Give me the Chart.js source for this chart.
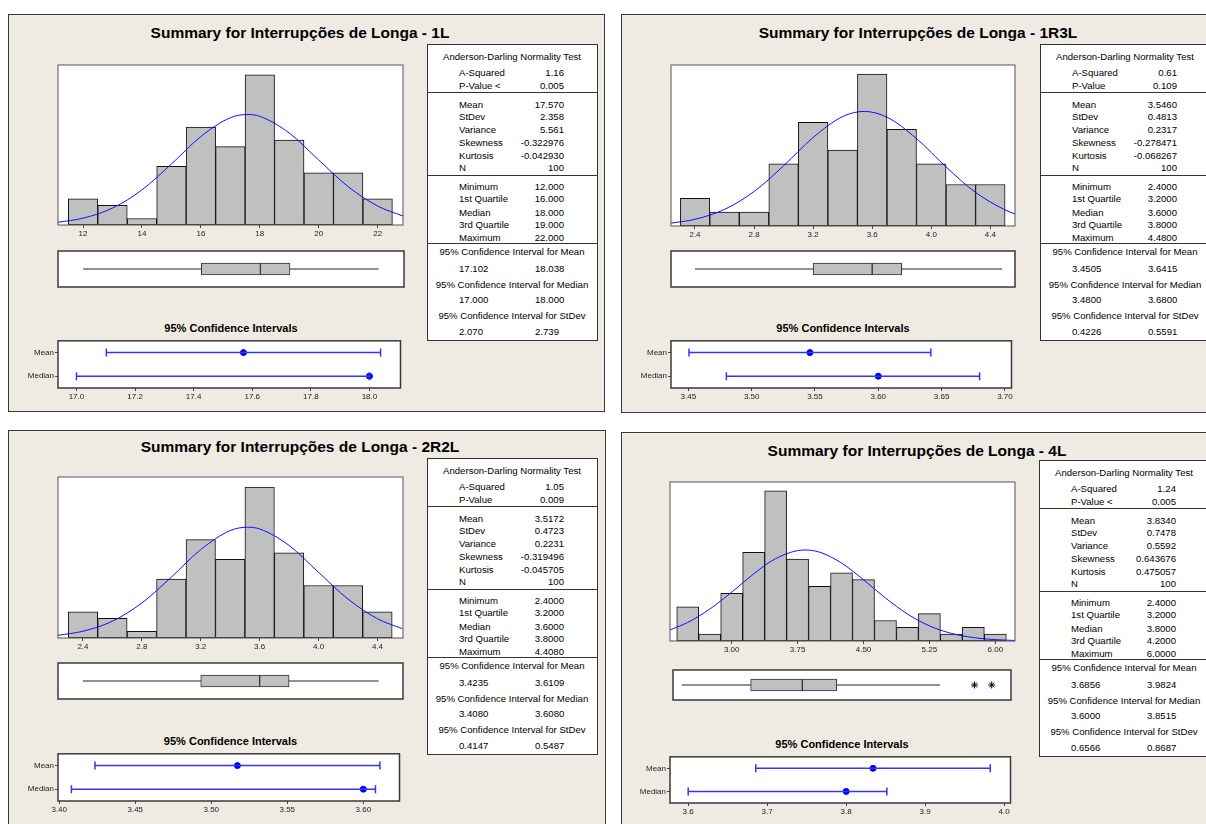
<!DOCTYPE html>
<html>
<head>
<meta charset="utf-8">
<title>Summary for Interrupções de Longa</title>
<script src="https://cdn.jsdelivr.net/npm/chart.js@4.4.1/dist/chart.umd.min.js"></script>
<style>
body { margin: 0; width: 1206px; height: 824px; overflow: hidden; position: relative; background: #fff; font-family: "Liberation Sans", Arial, sans-serif; color: #000; }
.panel { position: absolute; background: #efebe2; border: 1.5px solid #3a3a3a; box-sizing: border-box; }
.abs { position: absolute; white-space: nowrap; line-height: 1; }
.title { font-size: 15.5px; font-weight: bold; }
.cititle { font-size: 11px; font-weight: bold; }
.stats { position: absolute; width: 171px; height: 297px; background: #fff; border: 1.5px solid #333; box-sizing: border-box; font-size: 9.6px; }
.sep { position: absolute; left: 0; right: 0; height: 0; border-top: 1.5px solid #333; }
canvas { position: absolute; }
</style>
</head>
<body>
<script>
// ---- shared text ----
const titles = [
    'Summary for Interrupções de Longa - 1L',
    'Summary for Interrupções de Longa - 1R3L',
    'Summary for Interrupções de Longa - 2R2L',
    'Summary for Interrupções de Longa - 4L'
];
const statLabels = ['A-Squared', 'P-Value', 'Mean', 'StDev', 'Variance', 'Skewness', 'Kurtosis', 'N',
    'Minimum', '1st Quartile', 'Median', '3rd Quartile', 'Maximum'];
const pValueLabels = ['P-Value <', 'P-Value', 'P-Value', 'P-Value <'];
const ciHeaders = ['95% Confidence Interval for Mean', '95% Confidence Interval for Median', '95% Confidence Interval for StDev'];
const ciRows = ['Mean', 'Median'];

// ---- 1L ----
const bins1L = [12, 13, 14, 15, 16, 17, 18, 19, 20, 21, 22];
const counts1L = [4, 3, 1, 9, 15, 12, 23, 13, 8, 8, 4];
const curveX1L = [11.15, 12, 13, 14, 15, 16, 17, 17.57, 18, 19, 20, 21, 22, 22.86];
const curveY1L = [0.42, 1.04, 2.59, 5.38, 9.34, 13.55, 16.43, 16.92, 16.64, 14.08, 9.95, 5.87, 2.90, 1.37];
const ticks1L = [12, 14, 16, 18, 20, 22];
const box1L = [12, 16, 18, 19, 22];
const outliers1L = [];
const ciMean1L = [17.102, 17.570, 18.038];
const ciMedian1L = [17.000, 18.000, 18.000];
const ciTicks1L = [17.0, 17.2, 17.4, 17.6, 17.8, 18.0];
const stats1L = ['1.16', '0.005', '17.570', '2.358', '5.561', '-0.322976', '-0.042930', '100',
    '12.000', '16.000', '18.000', '19.000', '22.000'];
const ciText1L = ['17.102', '18.038', '17.000', '18.000', '2.070', '2.739'];

// ---- 1R3L ----
const bins1R3L = [2.4, 2.6, 2.8, 3.0, 3.2, 3.4, 3.6, 3.8, 4.0, 4.2, 4.4];
const counts1R3L = [4, 2, 2, 9, 15, 11, 22, 14, 9, 6, 6];
const curveX1R3L = [2.24, 2.4, 2.6, 2.8, 3.0, 3.2, 3.4, 3.546, 3.7, 3.9, 4.1, 4.3, 4.5, 4.57];
const curveY1R3L = [0.42, 0.97, 2.40, 4.99, 8.71, 12.81, 15.84, 16.58, 15.75, 12.65, 8.55, 4.86, 2.33, 1.72];
const ticks1R3L = [2.4, 2.8, 3.2, 3.6, 4.0, 4.4];
const box1R3L = [2.4, 3.2, 3.6, 3.8, 4.48];
const outliers1R3L = [];
const ciMean1R3L = [3.4505, 3.546, 3.6415];
const ciMedian1R3L = [3.48, 3.60, 3.68];
const ciTicks1R3L = [3.45, 3.50, 3.55, 3.60, 3.65, 3.70];
const stats1R3L = ['0.61', '0.109', '3.5460', '0.4813', '0.2317', '-0.278471', '-0.068267', '100',
    '2.4000', '3.2000', '3.6000', '3.8000', '4.4800'];
const ciText1R3L = ['3.4505', '3.6415', '3.4800', '3.6800', '0.4226', '0.5591'];

// ---- 2R2L ----
const bins2R2L = [2.4, 2.6, 2.8, 3.0, 3.2, 3.4, 3.6, 3.8, 4.0, 4.2, 4.4];
const counts2R2L = [4, 3, 1, 9, 15, 12, 23, 13, 8, 8, 4];
const curveX2R2L = [2.23, 2.4, 2.6, 2.8, 3.0, 3.2, 3.4, 3.517, 3.6, 3.8, 4.0, 4.2, 4.4, 4.57];
const curveY2R2L = [0.41, 1.03, 2.56, 5.34, 9.28, 13.48, 16.38, 16.89, 16.63, 14.11, 10.01, 5.94, 2.94, 1.41];
const ticks2R2L = [2.4, 2.8, 3.2, 3.6, 4.0, 4.4];
const box2R2L = [2.4, 3.2, 3.6, 3.8, 4.408];
const outliers2R2L = [];
const ciMean2R2L = [3.4235, 3.5172, 3.6109];
const ciMedian2R2L = [3.408, 3.60, 3.608];
const ciTicks2R2L = [3.40, 3.45, 3.50, 3.55, 3.60];
const stats2R2L = ['1.05', '0.009', '3.5172', '0.4723', '0.2231', '-0.319496', '-0.045705', '100',
    '2.4000', '3.2000', '3.6000', '3.8000', '4.4080'];
const ciText2R2L = ['3.4235', '3.6109', '3.4080', '3.6080', '0.4147', '0.5487'];

// ---- 4L ----
const bins4L = [2.5, 2.75, 3.0, 3.25, 3.5, 3.75, 4.0, 4.25, 4.5, 4.75, 5.0, 5.25, 5.5, 5.75, 6.0];
const counts4L = [5, 1, 7, 13, 22, 12, 8, 10, 9, 3, 2, 4, 1, 2, 1];
const curveX4L = [2.3, 2.5, 2.75, 3.0, 3.25, 3.5, 3.834, 4.0, 4.25, 4.5, 4.75, 5.0, 5.25, 5.5, 5.75, 6.0, 6.22];
const curveY4L = [1.63, 2.72, 4.67, 7.16, 9.83, 12.07, 13.34, 13.02, 11.43, 8.97, 6.30, 3.96, 2.22, 1.12, 0.50, 0.20, 0.08];
const ticks4L = [3.00, 3.75, 4.50, 5.25, 6.00];
const box4L = [2.4, 3.2, 3.8, 4.2, 5.4];
const outliers4L = [5.8, 6.0];
const ciMean4L = [3.6856, 3.834, 3.9824];
const ciMedian4L = [3.6, 3.8, 3.8515];
const ciTicks4L = [3.6, 3.7, 3.8, 3.9, 4.0];
const stats4L = ['1.24', '0.005', '3.8340', '0.7478', '0.5592', '0.643676', '0.475057', '100',
    '2.4000', '3.2000', '3.8000', '4.2000', '6.0000'];
const ciText4L = ['3.6856', '3.9824', '3.6000', '3.8515', '0.6566', '0.8687'];

// ---- layout of the four panels ----
const panels = [
    { bins: bins1L, counts: counts1L, curveX: curveX1L, curveY: curveY1L, ticks: ticks1L, box: box1L, outliers: outliers1L,
      ciMean: ciMean1L, ciMedian: ciMedian1L, ciTicks: ciTicks1L, stats: stats1L, ciText: ciText1L,
      frame: [8, 14, 597, 398], titleAt: [300, 33], hist: [58, 65, 345, 160], xr: [11.15, 22.86], ymax: 24.5, dec: 0,
      boxAt: [58, 251, 346, 36], ciAt: [58, 337, 346, 51], cir: [16.937, 18.106], ciDec: 1, tableAt: [427, 44] },
    { bins: bins1R3L, counts: counts1R3L, curveX: curveX1R3L, curveY: curveY1R3L, ticks: ticks1R3L, box: box1R3L, outliers: outliers1R3L,
      ciMean: ciMean1R3L, ciMedian: ciMedian1R3L, ciTicks: ciTicks1R3L, stats: stats1R3L, ciText: ciText1R3L,
      frame: [621, 14, 620, 399], titleAt: [918, 33], hist: [671, 65, 344, 161], xr: [2.2375, 4.567], ymax: 23.3, dec: 1,
      boxAt: [671, 251, 344, 36], ciAt: [671, 337, 344, 51], cir: [3.4363, 3.7052], ciDec: 2, tableAt: [1040, 44] },
    { bins: bins2R2L, counts: counts2R2L, curveX: curveX2R2L, curveY: curveY2R2L, ticks: ticks2R2L, box: box2R2L, outliers: outliers2R2L,
      ciMean: ciMean2R2L, ciMedian: ciMedian2R2L, ciTicks: ciTicks2R2L, stats: stats2R2L, ciText: ciText2R2L,
      frame: [8, 430, 598, 420], titleAt: [300, 447], hist: [58, 477, 345, 161], xr: [2.2305, 4.5736], ymax: 24.55, dec: 1,
      boxAt: [58, 663, 345, 36], ciAt: [58, 750, 345, 51], cir: [3.3992, 3.6238], ciDec: 2, tableAt: [427, 458] },
    { bins: bins4L, counts: counts4L, curveX: curveX4L, curveY: curveY4L, ticks: ticks4L, box: box4L, outliers: outliers4L,
      ciMean: ciMean4L, ciMedian: ciMedian4L, ciTicks: ciTicks4L, stats: stats4L, ciText: ciText4L,
      frame: [621, 432, 620, 420], titleAt: [917, 451], hist: [670, 482, 345, 159], xr: [2.298, 6.224], ymax: 23.3, dec: 2,
      boxAt: [670, 667, 344, 36], ciAt: [670, 753, 344, 50], cir: [3.577, 4.008], ciDec: 1, tableAt: [1039, 460] }
];

Chart.defaults.font.family = '"Liberation Sans", Arial, sans-serif';
Chart.defaults.font.size = 8;
Chart.defaults.color = '#222';
Chart.defaults.animation = false;
Chart.defaults.plugins.legend.display = false;
Chart.defaults.plugins.tooltip.enabled = false;

// white plot area + frame round it
const framePlugin = {
    id: 'frame',
    beforeDraw(chart) {
        const a = chart.chartArea, ctx = chart.ctx;
        ctx.save();
        ctx.fillStyle = '#fff';
        ctx.fillRect(a.left, a.top, a.right - a.left, a.bottom - a.top);
        ctx.restore();
    },
    afterDraw(chart, args, opts) {
        const a = chart.chartArea, ctx = chart.ctx;
        ctx.save();
        ctx.strokeStyle = opts.color || '#444';
        ctx.lineWidth = opts.width || 1;
        ctx.strokeRect(a.left, a.top, a.right - a.left, a.bottom - a.top);
        ctx.restore();
    }
};

function addCanvas(x, y, w, h) {
    const c = document.createElement('canvas');
    c.width = w; c.height = h;
    c.style.left = x + 'px'; c.style.top = y + 'px';
    document.body.appendChild(c);
    return c;
}

function text(parent, str, x, y, align, cls) {
    const d = document.createElement('div');
    d.className = 'abs' + (cls ? ' ' + cls : '');
    d.textContent = str;
    d.style.left = x + 'px';
    d.style.top = y + 'px';
    const tx = align === 'c' ? '-50%' : align === 'r' ? '-100%' : '0';
    d.style.transform = 'translate(' + tx + ',-50%)';
    parent.appendChild(d);
}

function xAxis(min, max, ticks, dec, show) {
    return {
        type: 'linear', min: min, max: max, offset: false, display: show,
        border: { display: false },
        grid: { offset: false, drawOnChartArea: false, drawTicks: true, tickLength: 3, color: '#444' },
        ticks: { autoSkip: false, maxRotation: 0, padding: 1, callback: v => v.toFixed(dec) },
        afterBuildTicks: ax => { ax.ticks = ticks.map(v => ({ value: v })); },
        afterFit: ax => { ax.height = 16; }
    };
}

function histChart(p) {
    const [x, y, w, h] = p.hist;
    const c = addCanvas(x - 2, y - 2, w + 4, h + 18);
    new Chart(c, {
        type: 'bar',
        data: {
            datasets: [
                {
                    type: 'line',
                    data: p.curveX.map((v, i) => ({ x: v, y: p.curveY[i] })),
                    borderColor: '#1010ff', borderWidth: 1, pointRadius: 0,
                    cubicInterpolationMode: 'monotone', order: 0
                },
                {
                    type: 'bar',
                    data: p.bins.map((v, i) => ({ x: v, y: p.counts[i] })),
                    backgroundColor: '#c0c0c0', borderColor: '#111', borderWidth: 1, borderSkipped: false,
                    barPercentage: 1, categoryPercentage: 1, order: 1
                }
            ]
        },
        options: {
            responsive: false,
            layout: { padding: { left: 2, right: 2, top: 2, bottom: 0 } },
            plugins: { frame: { color: '#555', width: 1 } },
            scales: {
                x: xAxis(p.xr[0], p.xr[1], p.ticks, p.dec, true),
                y: { display: false, min: 0, max: p.ymax }
            }
        },
        plugins: [framePlugin]
    });
}

function boxChart(p) {
    const [x, y, w, h] = p.boxAt;
    const c = addCanvas(x - 2, y - 2, w + 4, h + 4);
    const [lo, q1, med, q3, hi] = p.box;
    new Chart(c, {
        type: 'bar',
        data: {
            datasets: [
                { type: 'line', data: [{ x: lo, y: 1 }, { x: hi, y: 1 }], borderColor: '#222', borderWidth: 1, pointRadius: 0, order: 2 },
                {
                    type: 'bar', data: [{ x: [q1, med], y: 1 }, { x: [med, q3], y: 1 }],
                    backgroundColor: '#c0c0c0', borderColor: '#333', borderWidth: 1, borderSkipped: false,
                    barThickness: 12, order: 1
                },
                {
                    type: 'scatter', data: p.outliers.map(v => ({ x: v, y: 1 })),
                    pointStyle: 'star', pointRadius: 3.5, borderColor: '#000', borderWidth: 1, order: 0
                }
            ]
        },
        options: {
            responsive: false, indexAxis: 'y',
            layout: { padding: 2 },
            plugins: { frame: { color: '#3a3a3a', width: 1.5 } },
            scales: {
                x: { type: 'linear', display: false, min: p.xr[0], max: p.xr[1] },
                y: { type: 'linear', display: false, min: 0, max: 2, offset: false }
            }
        },
        plugins: [framePlugin]
    });
}

function ciChart(p) {
    const [x, y, w, h] = p.ciAt;
    const c = addCanvas(x - 42, y - 2, w + 44, h + 18);
    const line = '#3434ff', dot = '#0000f0';
    const interval = (vals, row) => ({
        data: [{ x: vals[0], y: row }, { x: vals[2], y: row }],
        borderColor: line, borderWidth: 1.5,
        pointStyle: 'line', pointRotation: 90, pointRadius: 4,
        pointBorderColor: line, pointBorderWidth: 1.5
    });
    new Chart(c, {
        type: 'line',
        data: {
            datasets: [
                interval(p.ciMean, ciRows[0]),
                interval(p.ciMedian, ciRows[1]),
                {
                    type: 'scatter',
                    data: [{ x: p.ciMean[1], y: ciRows[0] }, { x: p.ciMedian[1], y: ciRows[1] }],
                    pointStyle: 'circle', pointRadius: 3, backgroundColor: dot, borderColor: dot
                }
            ]
        },
        options: {
            responsive: false,
            layout: { padding: { left: 2, right: 2, top: 2, bottom: 0 } },
            plugins: { frame: { color: '#3a3a3a', width: 1.5 } },
            scales: {
                x: xAxis(p.cir[0], p.cir[1], p.ciTicks, p.ciDec, true),
                y: {
                    type: 'category', labels: ciRows, offset: true,
                    border: { display: false },
                    grid: { drawOnChartArea: false, tickLength: 3, color: '#444' },
                    ticks: { padding: 1 },
                    afterFit: ax => { ax.width = 40; }
                }
            }
        },
        plugins: [framePlugin]
    });
}

function statsTable(p, k) {
    const t = document.createElement('div');
    t.className = 'stats';
    t.style.left = p.tableAt[0] + 'px';
    t.style.top = p.tableAt[1] + 'px';
    document.body.appendChild(t);
    const rowY = [28.7, 41.7, 60.7, 73.3, 85.7, 98.7, 111.7, 124, 142.7, 155.3, 168.7, 181, 193.7];
    text(t, 'Anderson-Darling Normality Test', 84, 12.3, 'c');
    statLabels.forEach((lab, i) => {
        text(t, i === 1 ? pValueLabels[k] : lab, 31, rowY[i] - 1, 'l');
        text(t, p.stats[i], 136, rowY[i] - 1, 'r');
    });
    [49.3, 132, 200].forEach(s => {
        const d = document.createElement('div');
        d.className = 'sep';
        d.style.top = (s - 2) + 'px';
        t.appendChild(d);
    });
    const headY = [208.3, 241.3, 272], valY = [225.3, 256, 288];
    ciHeaders.forEach((hd, i) => {
        text(t, hd, 84, headY[i] - 1, 'c');
        text(t, p.ciText[2 * i], 31, valY[i] - 1, 'l');
        text(t, p.ciText[2 * i + 1], 107, valY[i] - 1, 'l');
    });
}

panels.forEach((p, k) => {
    const f = document.createElement('div');
    f.className = 'panel';
    f.style.left = p.frame[0] + 'px';
    f.style.top = p.frame[1] + 'px';
    f.style.width = p.frame[2] + 'px';
    f.style.height = p.frame[3] + 'px';
    document.body.appendChild(f);
    text(document.body, titles[k], p.titleAt[0], p.titleAt[1], 'c', 'title');
    text(document.body, '95% Confidence Intervals', p.ciAt[0] + p.ciAt[2] / 2, p.ciAt[1] - 9.5, 'c', 'cititle');
    histChart(p);
    boxChart(p);
    ciChart(p);
    statsTable(p, k);
});
</script>
</body>
</html>
